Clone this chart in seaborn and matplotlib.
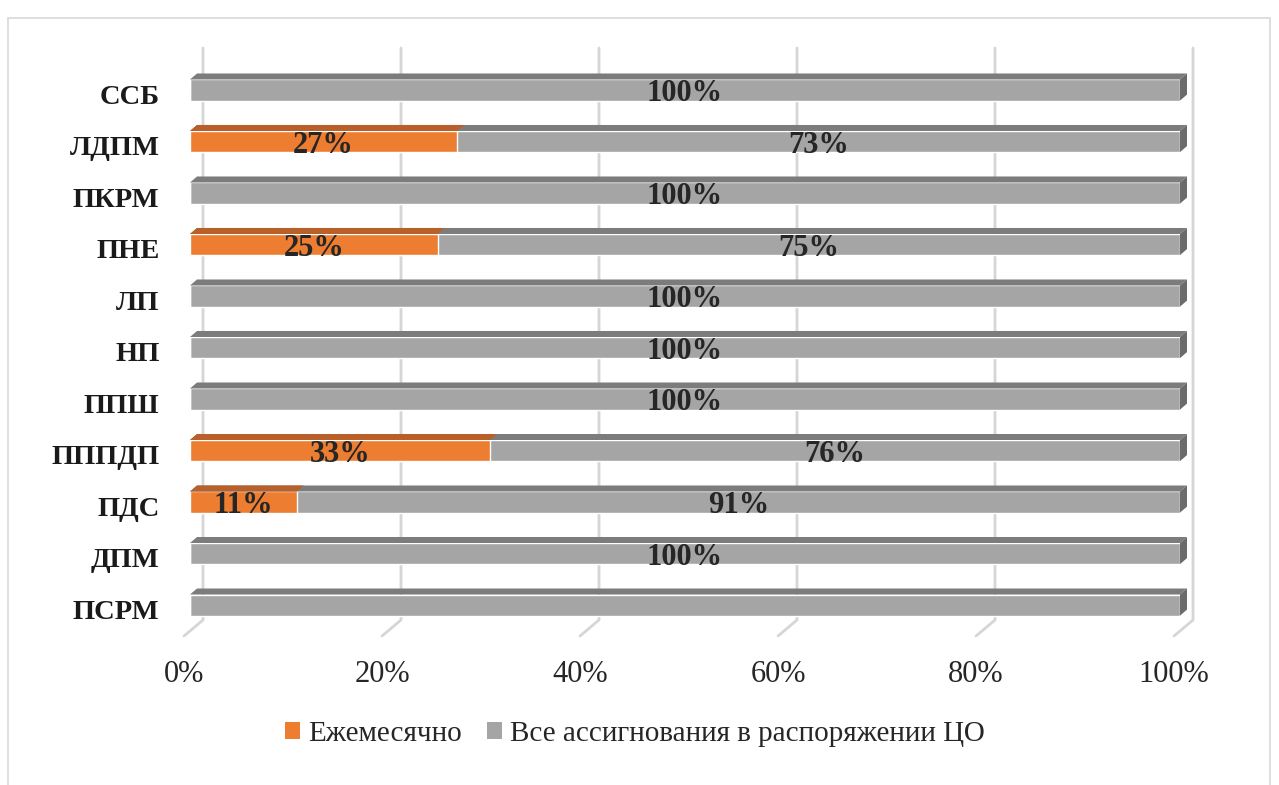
import matplotlib
matplotlib.use("Agg")
import matplotlib.pyplot as plt
import seaborn as sns
import pandas as pd
import numpy as np
from matplotlib.patches import Polygon, Rectangle, Patch
from matplotlib.transforms import ScaledTranslation

categories = ["ССБ", "ЛДПМ", "ПКРМ", "ПНЕ", "ЛП", "НП", "ППШ", "ПППДП", "ПДС", "ДПМ", "ПСРМ"]
monthly = [0, 27, 0, 25, 0, 0, 0, 33, 11, 0, 0]
all_alloc = [100, 73, 100, 75, 100, 100, 100, 76, 91, 100, 100]
show_labels = [True, True, True, True, True, True, True, True, True, True, False]
series_names = ["Ежемесячно", "Все ассигнования в распоряжении ЦО"]
xtick_values = [0, 0.2, 0.4, 0.6, 0.8, 1.0]
xtick_labels = ["0%", "20%", "40%", "60%", "80%", "100%"]

ORANGE = "#ED7D31"
ORANGE_TOP = "#B9602A"
GRAY = "#A5A5A5"
GRAY_TOP = "#7C7C7C"
GRAY_SIDE = "#6B6B6B"

sns.set_theme(style="white")
plt.rcParams["font.family"] = ["Liberation Serif", "DejaVu Serif"]

tot = np.array(monthly, float) + np.array(all_alloc, float)
df = pd.DataFrame({
    "cat": categories,
    "orange": np.array(monthly) / tot,
    "full": np.ones(len(categories)),
})

W, H = 1279, 785
fig = plt.figure(figsize=(W / 100, H / 100), dpi=100)
fig.patch.set_facecolor("white")
# chart frame
fig.patches.append(Rectangle((8 / W, -0.02), (1270 - 8) / W, 1 - 18 / H + 0.02,
                             transform=fig.transFigure, fill=False,
                             edgecolor="#D9D9D9", lw=1.2))

ax_l, ax_r, ax_t, ax_b = 190, 1180, 48, 620
ax = fig.add_axes([ax_l / W, 1 - ax_b / H, (ax_r - ax_l) / W, (ax_b - ax_t) / H])
ax.patch.set_alpha(0)

sns.barplot(data=df, y="cat", x="full", color=GRAY, width=0.41, ax=ax,
            saturation=1, zorder=3)
sns.barplot(data=df, y="cat", x="orange", color=ORANGE, width=0.41, ax=ax,
            saturation=1, zorder=4)

ax.set_xlim(0, 1)
ax.set_ylim(10.29, -0.816)
for s in ax.spines.values():
    s.set_visible(False)
ax.set_xlabel("")
ax.set_ylabel("")
ax.set_xticks(xtick_values)
ax.set_xticklabels(xtick_labels, fontsize=22, color="#262626")
ax.tick_params(axis="x", length=0, pad=29)
ax.tick_params(axis="y", length=0, pad=22)
for lab in ax.get_yticklabels():
    lab.set_fontweight("bold")
    lab.set_fontsize(20.5)
    lab.set_color("#1a1a1a")
    lab.set_transform(lab.get_transform() + ScaledTranslation(0, -4 / 100, fig.dpi_scale_trans))
for lab in ax.get_xticklabels():
    lab.set_transform(lab.get_transform() + ScaledTranslation(-6 / 100, 0, fig.dpi_scale_trans))

fig.canvas.draw()
to_disp = ax.transData.transform
dx, dy = 7, 6  # 3D depth in pixels

# back-wall gridlines with slanted floor part
for v in xtick_values:
    x0, _ = to_disp((v, 0))
    ytop = fig.bbox.height - ax_t
    ybot = fig.bbox.height - ax_b
    pts = [(x0 + 13, ytop), (x0 + 13, ybot), (x0 - 6, ybot - 16)]
    xs, ys = zip(*pts)
    fig.add_artist(plt.Line2D(xs, ys, transform=None, color="#D6D6D6", lw=2, zorder=-1))

# 3D faces
n = len(categories)
rects = list(ax.patches)
for idx, p in enumerate(rects):
    x, y = p.get_x(), p.get_y()
    w, h = p.get_width(), p.get_height()
    if w <= 0:
        continue
    is_orange = idx >= n
    (xl, yt) = to_disp((x, y))
    (xr, yb) = to_disp((x + w, y + h))
    top = [(xl, yt), (xr, yt), (xr + dx, yt + dy), (xl + dx, yt + dy)]
    fig.add_artist(Polygon(top, closed=True, transform=None,
                           facecolor=ORANGE_TOP if is_orange else GRAY_TOP,
                           edgecolor="none", zorder=5 if is_orange else 4))
    if not is_orange:
        side = [(xr, yt), (xr, yb), (xr + dx, yb + dy), (xr + dx, yt + dy)]
        fig.add_artist(Polygon(side, closed=True, transform=None,
                               facecolor=GRAY_SIDE, edgecolor="none", zorder=4))

# value labels
for i, cat in enumerate(categories):
    if not show_labels[i]:
        continue
    o = df["orange"][i]
    if monthly[i] > 0:
        ax.text(o / 2, i + 0.07, f"{monthly[i]}%", ha="center", va="center",
                fontsize=22, fontweight="bold", color="#262626", zorder=10)
    ax.text(o + (1 - o) / 2, i + 0.07, f"{all_alloc[i]}%", ha="center", va="center",
            fontsize=22, fontweight="bold", color="#262626", zorder=10)

handles = [Patch(facecolor=ORANGE, edgecolor="none"), Patch(facecolor=GRAY, edgecolor="none")]
fig.legend(handles, series_names, loc="center", bbox_to_anchor=(635 / W, 1 - 734 / H),
           ncol=2, frameon=False, fontsize=21, handlelength=0.51, handleheight=0.51,
           handletextpad=0.28, columnspacing=0.86, labelcolor="#262626",
           borderpad=0, borderaxespad=0)

fig.savefig("out.png", dpi=100, facecolor="white")
